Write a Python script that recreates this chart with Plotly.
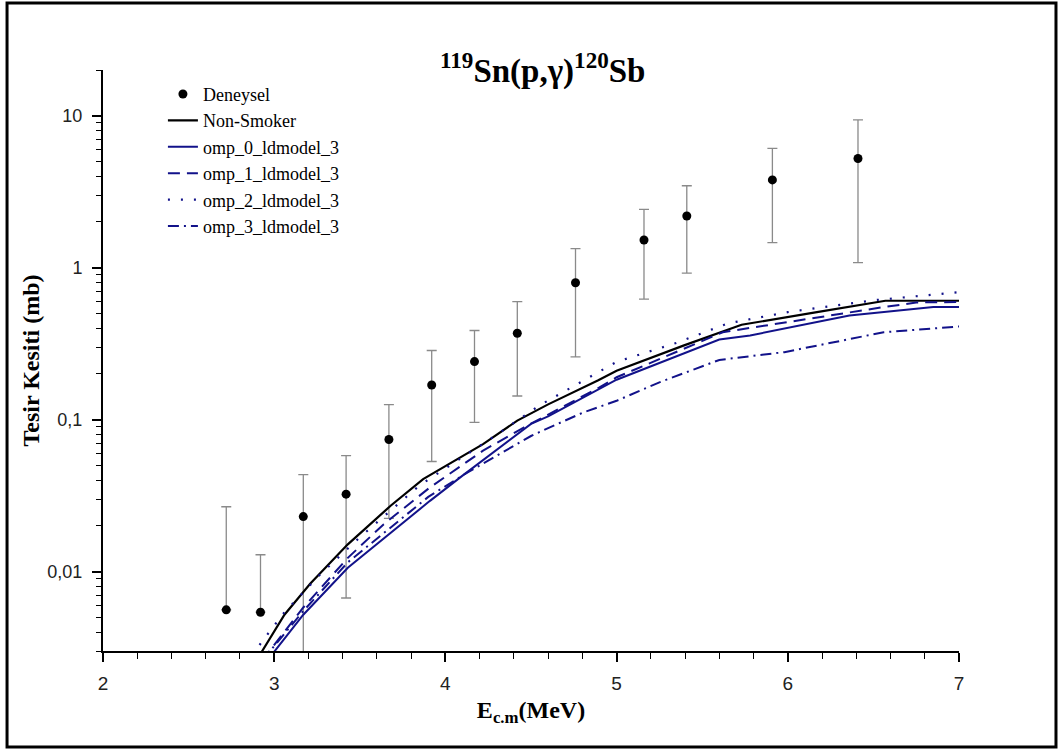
import plotly.graph_objects as go

# Experimental data (Deneysel)
exp_E = [2.72, 2.92, 3.17, 3.42, 3.67, 3.92, 4.17, 4.42, 4.76, 5.16, 5.41, 5.91, 6.41]
exp_sigma = [0.0056, 0.0054, 0.023, 0.0323, 0.0740, 0.169, 0.241, 0.370, 0.796, 1.52, 2.19, 3.78, 5.23]
exp_err = [0.0211, 0.0075, 0.0204, 0.0256, 0.0516, 0.116, 0.145, 0.227, 0.537, 0.90, 1.27, 2.32, 4.15]

# Non-Smoker
ns_E = [2.90, 2.93, 3.06, 3.21, 3.43, 3.68, 3.87, 4.22, 4.42, 4.60, 4.89, 5.00, 5.39, 5.73, 6.17, 6.57, 7.00]
ns_sigma = [0.0026, 0.0030, 0.0052, 0.0083, 0.0151, 0.0271, 0.0406, 0.069, 0.0985, 0.126, 0.181, 0.21, 0.307, 0.421, 0.51, 0.606, 0.606]

# omp_0_ldmodel_3
o0_E = [2.96, 3.17, 3.43, 3.68, 3.91, 4.10, 4.50, 4.60, 5.00, 5.60, 5.78, 6.36, 6.85, 7.00]
o0_sigma = [0.0026, 0.0052, 0.0106, 0.0181, 0.0292, 0.0428, 0.0937, 0.105, 0.183, 0.337, 0.358, 0.485, 0.55, 0.55]

# omp_1_ldmodel_3
o1_E = [2.93, 3.17, 3.43, 3.64, 3.91, 4.22, 4.46, 4.90, 5.00, 5.62, 6.56, 6.75, 7.00]
o1_sigma = [0.0026, 0.0058, 0.0123, 0.0205, 0.0358, 0.0625, 0.089, 0.163, 0.19, 0.376, 0.55, 0.59, 0.595]

# omp_2_ldmodel_3
o2_E = [2.87, 2.94, 3.06, 3.27, 3.50, 3.85, 4.25, 4.55, 5.00, 5.35, 5.65, 6.00, 6.50, 7.00]
o2_sigma = [0.0028, 0.0036, 0.0054, 0.0096, 0.0168, 0.037, 0.073, 0.124, 0.24, 0.32, 0.43, 0.51, 0.61, 0.69]

# omp_3_ldmodel_3
o3_E = [2.93, 3.17, 3.43, 3.68, 3.90, 4.13, 4.50, 4.60, 4.81, 5.00, 5.25, 5.60, 5.98, 6.56, 7.00]
o3_sigma = [0.0026, 0.0055, 0.0115, 0.0195, 0.031, 0.045, 0.078, 0.088, 0.112, 0.133, 0.176, 0.247, 0.278, 0.376, 0.41]

# axis ticks
y_tickvals = [0.01, 0.1, 1, 10]
y_ticktext = ["0,01", "0,1", "1", "10"]
x_tickvals = [2, 3, 4, 5, 6, 7]

NAVY = "#12128a"
SERIF = "Liberation Serif"
SANS = "Liberation Sans"

# lower error bars that would go below zero are omitted (as in the original)
exp_err_minus = [e if s - e > -0.001 else 0 for s, e in zip(exp_sigma, exp_err)]

fig = go.Figure()
fig.add_trace(go.Scatter(
    x=exp_E, y=exp_sigma, mode="markers", name="Deneysel",
    marker=dict(color="black", size=9),
    error_y=dict(type="data", symmetric=False, array=exp_err, arrayminus=exp_err_minus,
                 color="#8a8a8a", thickness=1.3, width=5),
))
fig.add_trace(go.Scatter(x=ns_E, y=ns_sigma, mode="lines", name="Non-Smoker",
                         line=dict(color="black", width=2.2)))
fig.add_trace(go.Scatter(x=o0_E, y=o0_sigma, mode="lines", name="omp_0_ldmodel_3",
                         line=dict(color=NAVY, width=2)))
fig.add_trace(go.Scatter(x=o1_E, y=o1_sigma, mode="lines", name="omp_1_ldmodel_3",
                         line=dict(color=NAVY, width=2, dash="12px,7px")))
fig.add_trace(go.Scatter(x=o2_E, y=o2_sigma, mode="lines", name="omp_2_ldmodel_3",
                         line=dict(color=NAVY, width=2.2, dash="2px,11px")))
fig.add_trace(go.Scatter(x=o3_E, y=o3_sigma, mode="lines", name="omp_3_ldmodel_3",
                         line=dict(color=NAVY, width=2, dash="11px,5px,2px,5px")))

minor_y = [m * 10 ** d for d in range(-3, 2) for m in range(2, 10)]
minor_y = [v for v in minor_y if 0.003 <= v <= 20]

fig.update_layout(
    width=1063, height=751,
    margin=dict(l=103, r=104, t=70, b=100),
    paper_bgcolor="white", plot_bgcolor="white",
    showlegend=True,
    legend=dict(x=0.07, y=0.99, xanchor="left", yanchor="top",
                font=dict(family=SERIF, size=18, color="black"),
                bgcolor="rgba(0,0,0,0)", borderwidth=0),
    xaxis=dict(range=[2, 7], tickmode="array", tickvals=x_tickvals,
               showline=True, linecolor="black", linewidth=2,
               ticks="outside", ticklen=9, tickwidth=1.6, tickcolor="black",
               ticklabelstandoff=5,
               minor=dict(dtick=0.2, ticks="outside", ticklen=6, tickwidth=1.4, tickcolor="black", showgrid=False),
               showgrid=False, zeroline=False, mirror=False,
               tickfont=dict(family=SANS, size=19, color="#222"),
               title=dict(text="<b>E<sub>c.m</sub>(MeV)</b>", standoff=8,
                          font=dict(family=SERIF, size=24, color="black"))),
    yaxis=dict(type="log", range=[0.4771 - 3, 1.30103], tickmode="array",
               tickvals=y_tickvals, ticktext=y_ticktext,
               showline=True, linecolor="black", linewidth=2,
               ticks="outside", ticklen=9, tickwidth=1.6, tickcolor="black",
               ticklabelstandoff=6,
               minor=dict(tickmode="array", tickvals=minor_y, ticks="outside", ticklen=5,
                          tickwidth=1.4, tickcolor="black", showgrid=False),
               showgrid=False, zeroline=False, mirror=False,
               tickfont=dict(family=SANS, size=18, color="#222"),
               title=dict(text="<b>Tesir Kesiti (mb)</b>", standoff=1,
                          font=dict(family=SERIF, size=24, color="black"))),
    annotations=[dict(text="<b><sup>119</sup>Sn(p,γ)<sup>120</sup>Sb</b>",
                      xref="paper", yref="paper", x=0.513, y=1.003,
                      xanchor="center", yanchor="middle", showarrow=False,
                      font=dict(family=SERIF, size=33, color="black"))],
    shapes=[dict(type="rect", xref="paper", yref="paper",
                 x0=-0.1121, x1=1.1133, y0=-0.1652, y1=1.1153,
                 line=dict(color="black", width=3), fillcolor="rgba(0,0,0,0)", layer="above")],
)

fig.write_html("out.html")
